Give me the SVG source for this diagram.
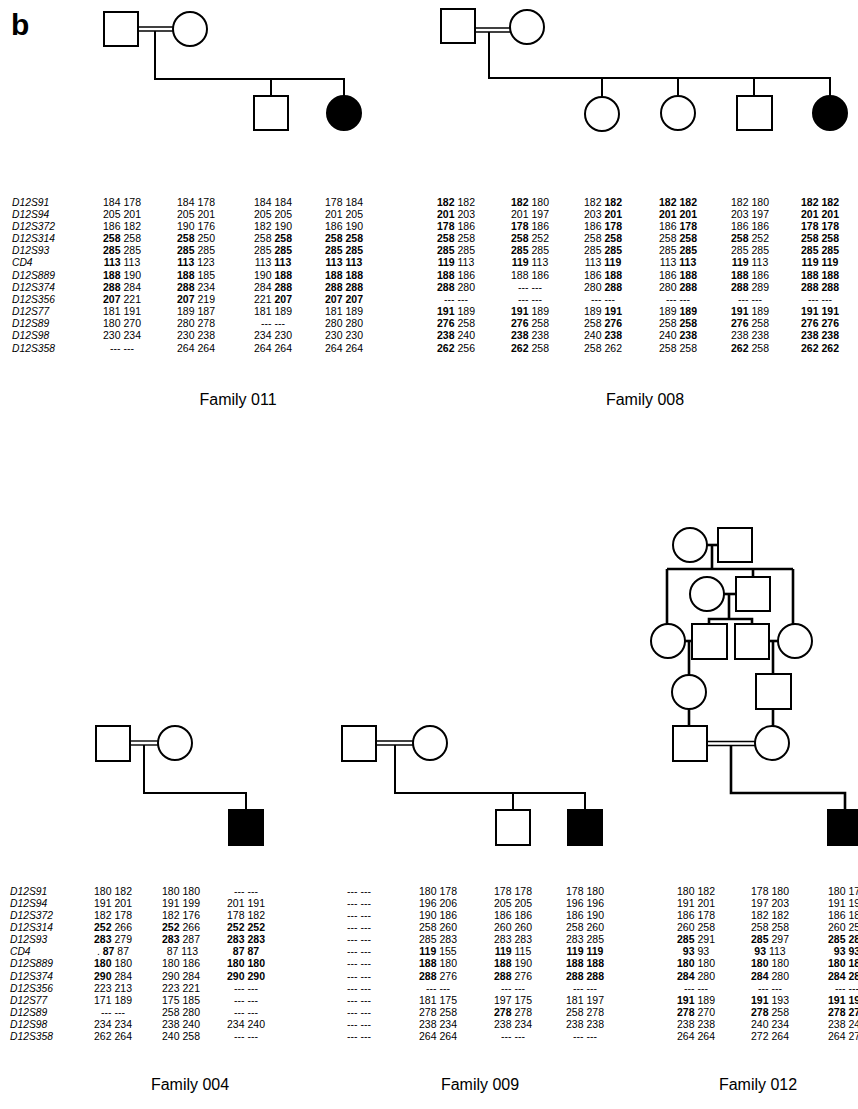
<svg xmlns="http://www.w3.org/2000/svg" width="858" height="1109" viewBox="0 0 858 1109">
<style>
.sym{fill:#fff;stroke:#000;stroke-width:2}
.aff{fill:#000;stroke:#000;stroke-width:2}
.ln{fill:none;stroke:#000;stroke-width:2}
.ln2{fill:none;stroke:#000;stroke-width:2.6}
.dbl{fill:none;stroke:#000;stroke-width:1.4}
.mk{font-family:"Liberation Sans",Arial,sans-serif;font-size:10.3px;font-style:italic}
.al{font-family:"Liberation Sans",Arial,sans-serif;font-size:10.5px;text-anchor:middle;white-space:pre}
.b{font-weight:bold}
.fam{font-family:"Liberation Sans",Arial,sans-serif;font-size:16px;text-anchor:middle}
</style>
<rect width="858" height="1109" fill="#fff"/>
<text x="11" y="35" font-family="Liberation Sans,Arial,sans-serif" font-size="30" font-weight="bold">b</text>

<!-- ===== Family 011 pedigree ===== -->
<g id="connectors-011">
<line class="dbl" x1="138" y1="27" x2="173" y2="27"/><line class="dbl" x1="138" y1="31" x2="173" y2="31"/>
<polyline class="ln" points="155,31 155,79 344,79 344,96"/>
<line class="ln" x1="271" y1="79" x2="271" y2="96"/>
</g>
<g id="f011-father"><rect class="sym" x="104" y="12" width="34" height="34"/></g>
<g id="f011-mother"><circle class="sym" cx="190" cy="29" r="17"/></g>
<g id="f011-son"><rect class="sym" x="254" y="96" width="34" height="34"/></g>
<g id="f011-affected-daughter"><circle class="aff" cx="344" cy="113" r="17"/></g>

<!-- ===== Family 008 pedigree ===== -->
<g id="connectors-008">
<line class="dbl" x1="475" y1="28" x2="510" y2="28"/><line class="dbl" x1="475" y1="32" x2="510" y2="32"/>
<polyline class="ln" points="489,32 489,78 830,78 830,96"/>
<line class="ln" x1="602" y1="78" x2="602" y2="97"/>
<line class="ln" x1="678" y1="78" x2="678" y2="96"/>
<line class="ln" x1="754" y1="78" x2="754" y2="96"/>
</g>
<g id="f008-father"><rect class="sym" x="441" y="9" width="34" height="34"/></g>
<g id="f008-mother"><circle class="sym" cx="527" cy="27" r="17"/></g>
<g id="f008-daughter1"><circle class="sym" cx="602" cy="114" r="17"/></g>
<g id="f008-daughter2"><circle class="sym" cx="678" cy="113" r="17"/></g>
<g id="f008-son"><rect class="sym" x="737" y="96" width="35" height="34"/></g>
<g id="f008-affected-daughter"><circle class="aff" cx="830" cy="113" r="17"/></g>

<!-- ===== top marker labels ===== -->
<g id="markers-top" class="mk">
<text x="12" y="205.5">D12S91</text><text x="12" y="217.7">D12S94</text><text x="12" y="229.8">D12S372</text>
<text x="12" y="242">D12S314</text><text x="12" y="254.2">D12S93</text><text x="12" y="266.4">CD4</text>
<text x="12" y="278.5">D12S889</text><text x="12" y="290.7">D12S374</text><text x="12" y="302.9">D12S356</text>
<text x="12" y="315">D12S77</text><text x="12" y="327.2">D12S89</text><text x="12" y="339.4">D12S98</text>
<text x="12" y="351.5">D12S358</text>
</g>

<!-- ===== Family 011 table ===== -->
<g id="table-011" class="al">
<text y="205.5"><tspan x="122">184 178</tspan><tspan x="196">184 178</tspan><tspan x="273">184 184</tspan><tspan x="344">178 184</tspan></text>
<text y="217.7"><tspan x="122">205 201</tspan><tspan x="196">205 201</tspan><tspan x="273">205 205</tspan><tspan x="344">201 205</tspan></text>
<text y="229.8"><tspan x="122">186 182</tspan><tspan x="196">190 176</tspan><tspan x="273">182 190</tspan><tspan x="344">186 190</tspan></text>
<text y="242"><tspan x="122"><tspan class="b">258</tspan> 258</tspan><tspan x="196"><tspan class="b">258</tspan> 250</tspan><tspan x="273">258 <tspan class="b">258</tspan></tspan><tspan x="344" class="b">258 258</tspan></text>
<text y="254.2"><tspan x="122"><tspan class="b">285</tspan> 285</tspan><tspan x="196"><tspan class="b">285</tspan> 285</tspan><tspan x="273">285 <tspan class="b">285</tspan></tspan><tspan x="344" class="b">285 285</tspan></text>
<text y="266.4"><tspan x="122"><tspan class="b">113</tspan> 113</tspan><tspan x="196"><tspan class="b">113</tspan> 123</tspan><tspan x="273">113 <tspan class="b">113</tspan></tspan><tspan x="344" class="b">113 113</tspan></text>
<text y="278.5"><tspan x="122"><tspan class="b">188</tspan> 190</tspan><tspan x="196"><tspan class="b">188</tspan> 185</tspan><tspan x="273">190 <tspan class="b">188</tspan></tspan><tspan x="344" class="b">188 188</tspan></text>
<text y="290.7"><tspan x="122"><tspan class="b">288</tspan> 284</tspan><tspan x="196"><tspan class="b">288</tspan> 234</tspan><tspan x="273">284 <tspan class="b">288</tspan></tspan><tspan x="344" class="b">288 288</tspan></text>
<text y="302.9"><tspan x="122"><tspan class="b">207</tspan> 221</tspan><tspan x="196"><tspan class="b">207</tspan> 219</tspan><tspan x="273">221 <tspan class="b">207</tspan></tspan><tspan x="344" class="b">207 207</tspan></text>
<text y="315"><tspan x="122">181 191</tspan><tspan x="196">189 187</tspan><tspan x="273">181 189</tspan><tspan x="344">181 189</tspan></text>
<text y="327.2"><tspan x="122">180 270</tspan><tspan x="196">280 278</tspan><tspan x="273">---    ---</tspan><tspan x="344">280 280</tspan></text>
<text y="339.4"><tspan x="122">230 234</tspan><tspan x="196">230 238</tspan><tspan x="273">234 230</tspan><tspan x="344">230 230</tspan></text>
<text y="351.5"><tspan x="122">---    ---</tspan><tspan x="196">264 264</tspan><tspan x="273">264 264</tspan><tspan x="344">264 264</tspan></text>
</g>

<!-- ===== Family 008 table ===== -->
<g id="table-008" class="al">
<text y="205.5"><tspan x="456"><tspan class="b">182</tspan> 182</tspan><tspan x="530"><tspan class="b">182</tspan> 180</tspan><tspan x="603">182 <tspan class="b">182</tspan></tspan><tspan x="678" class="b">182 182</tspan><tspan x="750">182 180</tspan><tspan x="820" class="b">182 182</tspan></text>
<text y="217.7"><tspan x="456"><tspan class="b">201</tspan> 203</tspan><tspan x="530">201 197</tspan><tspan x="603">203 <tspan class="b">201</tspan></tspan><tspan x="678" class="b">201 201</tspan><tspan x="750">203 197</tspan><tspan x="820" class="b">201 201</tspan></text>
<text y="229.8"><tspan x="456"><tspan class="b">178</tspan> 186</tspan><tspan x="530"><tspan class="b">178</tspan> 186</tspan><tspan x="603">186 <tspan class="b">178</tspan></tspan><tspan x="678">186 <tspan class="b">178</tspan></tspan><tspan x="750">186 186</tspan><tspan x="820" class="b">178 178</tspan></text>
<text y="242"><tspan x="456"><tspan class="b">258</tspan> 258</tspan><tspan x="530"><tspan class="b">258</tspan> 252</tspan><tspan x="603">258 <tspan class="b">258</tspan></tspan><tspan x="678">258 <tspan class="b">258</tspan></tspan><tspan x="750"><tspan class="b">258</tspan> 252</tspan><tspan x="820" class="b">258 258</tspan></text>
<text y="254.2"><tspan x="456"><tspan class="b">285</tspan> 285</tspan><tspan x="530"><tspan class="b">285</tspan> 285</tspan><tspan x="603">285 <tspan class="b">285</tspan></tspan><tspan x="678">285 <tspan class="b">285</tspan></tspan><tspan x="750">285 285</tspan><tspan x="820" class="b">285 285</tspan></text>
<text y="266.4"><tspan x="456"><tspan class="b">119</tspan> 113</tspan><tspan x="530"><tspan class="b">119</tspan> 113</tspan><tspan x="603">113 <tspan class="b">119</tspan></tspan><tspan x="678">113 <tspan class="b">113</tspan></tspan><tspan x="750"><tspan class="b">119</tspan> 113</tspan><tspan x="820" class="b">119 119</tspan></text>
<text y="278.5"><tspan x="456"><tspan class="b">188</tspan> 186</tspan><tspan x="530">188 186</tspan><tspan x="603">186 <tspan class="b">188</tspan></tspan><tspan x="678">186 <tspan class="b">188</tspan></tspan><tspan x="750"><tspan class="b">188</tspan> 186</tspan><tspan x="820" class="b">188 188</tspan></text>
<text y="290.7"><tspan x="456"><tspan class="b">288</tspan> 280</tspan><tspan x="530">---    ---</tspan><tspan x="603">280 <tspan class="b">288</tspan></tspan><tspan x="678">280 <tspan class="b">288</tspan></tspan><tspan x="750"><tspan class="b">288</tspan> 289</tspan><tspan x="820" class="b">288 288</tspan></text>
<text y="302.9"><tspan x="456">---    ---</tspan><tspan x="530">---    ---</tspan><tspan x="603">---    ---</tspan><tspan x="678">---    ---</tspan><tspan x="750">---    ---</tspan><tspan x="820">---    ---</tspan></text>
<text y="315"><tspan x="456"><tspan class="b">191</tspan> 189</tspan><tspan x="530"><tspan class="b">191</tspan> 189</tspan><tspan x="603">189 <tspan class="b">191</tspan></tspan><tspan x="678">189 <tspan class="b">189</tspan></tspan><tspan x="750"><tspan class="b">191</tspan> 189</tspan><tspan x="820" class="b">191 191</tspan></text>
<text y="327.2"><tspan x="456"><tspan class="b">276</tspan> 258</tspan><tspan x="530"><tspan class="b">276</tspan> 258</tspan><tspan x="603">258 <tspan class="b">276</tspan></tspan><tspan x="678">258 <tspan class="b">258</tspan></tspan><tspan x="750"><tspan class="b">276</tspan> 258</tspan><tspan x="820" class="b">276 276</tspan></text>
<text y="339.4"><tspan x="456"><tspan class="b">238</tspan> 240</tspan><tspan x="530"><tspan class="b">238</tspan> 238</tspan><tspan x="603">240 <tspan class="b">238</tspan></tspan><tspan x="678">240 <tspan class="b">238</tspan></tspan><tspan x="750">238 238</tspan><tspan x="820" class="b">238 238</tspan></text>
<text y="351.5"><tspan x="456"><tspan class="b">262</tspan> 256</tspan><tspan x="530"><tspan class="b">262</tspan> 258</tspan><tspan x="603">258 262</tspan><tspan x="678">258 258</tspan><tspan x="750"><tspan class="b">262</tspan> 258</tspan><tspan x="820" class="b">262 262</tspan></text>
</g>

<g id="labels-top" class="fam">
<text x="238" y="405">Family 011</text>
<text x="645" y="405">Family 008</text>
</g>

<!-- ===== Family 004 pedigree ===== -->
<g id="connectors-004">
<line class="dbl" x1="130" y1="741" x2="158" y2="741"/><line class="dbl" x1="130" y1="745" x2="158" y2="745"/>
<polyline class="ln" points="144,745 144,793 246,793 246,810"/>
</g>
<g id="f004-father"><rect class="sym" x="96" y="726" width="34" height="35"/></g>
<g id="f004-mother"><circle class="sym" cx="175" cy="743" r="17"/></g>
<g id="f004-affected-son"><rect class="aff" x="229" y="810" width="34" height="35"/></g>

<!-- ===== Family 009 pedigree ===== -->
<g id="connectors-009">
<line class="dbl" x1="376" y1="741" x2="413" y2="741"/><line class="dbl" x1="376" y1="745" x2="413" y2="745"/>
<polyline class="ln" points="395,745 395,793 585,793 585,810"/>
<line class="ln" x1="513" y1="793" x2="513" y2="810"/>
</g>
<g id="f009-father"><rect class="sym" x="342" y="726" width="34" height="35"/></g>
<g id="f009-mother"><circle class="sym" cx="430" cy="743" r="17"/></g>
<g id="f009-son"><rect class="sym" x="496" y="810" width="34" height="35"/></g>
<g id="f009-affected-son"><rect class="aff" x="568" y="810" width="34" height="35"/></g>

<!-- ===== Family 012 pedigree ===== -->
<g id="connectors-012">
<line class="ln2" x1="707" y1="545" x2="718" y2="545"/>
<line class="ln2" x1="712" y1="545" x2="712" y2="569"/>
<line class="ln2" x1="667" y1="569" x2="793" y2="569"/>
<line class="ln2" x1="667" y1="569" x2="667" y2="624"/>
<line class="ln2" x1="793" y1="569" x2="793" y2="624"/>
<line class="ln2" x1="753" y1="569" x2="753" y2="577"/>
<line class="ln2" x1="724" y1="594" x2="736" y2="594"/>
<line class="ln2" x1="729" y1="594" x2="729" y2="619"/>
<polyline class="ln2" points="709,624 709,619 752,619 752,624"/>
<line class="ln2" x1="685" y1="641" x2="692" y2="641"/>
<line class="ln2" x1="769" y1="641" x2="778" y2="641"/>
<line class="ln2" x1="689" y1="641" x2="689" y2="675"/>
<line class="ln2" x1="773" y1="641" x2="773" y2="674"/>
<line class="ln2" x1="689" y1="709" x2="689" y2="726"/>
<line class="ln2" x1="773" y1="709" x2="773" y2="726"/>
<line class="dbl" x1="707" y1="741.5" x2="755" y2="741.5"/><line class="dbl" x1="707" y1="745.5" x2="755" y2="745.5"/>
<polyline class="ln2" points="731,745.5 731,793 845,793 845,810"/>
</g>
<g id="f012-gm1"><circle class="sym" cx="690" cy="545" r="17"/></g>
<g id="f012-gf1"><rect class="sym" x="718" y="528" width="34" height="34"/></g>
<g id="f012-gm2"><circle class="sym" cx="707" cy="594" r="17"/></g>
<g id="f012-gf2"><rect class="sym" x="736" y="577" width="34" height="34"/></g>
<g id="f012-c1"><circle class="sym" cx="668" cy="641" r="17"/></g>
<g id="f012-s1"><rect class="sym" x="692" y="624" width="35" height="35"/></g>
<g id="f012-s2"><rect class="sym" x="735" y="624" width="34" height="35"/></g>
<g id="f012-c2"><circle class="sym" cx="795" cy="641" r="17"/></g>
<g id="f012-c3"><circle class="sym" cx="689" cy="692" r="17"/></g>
<g id="f012-s3"><rect class="sym" x="756" y="674" width="35" height="35"/></g>
<g id="f012-father"><rect class="sym" x="673" y="726" width="34" height="35"/></g>
<g id="f012-mother"><circle class="sym" cx="772" cy="743" r="17"/></g>
<g id="f012-affected-son"><rect class="aff" x="828" y="810" width="35" height="35"/></g>

<!-- ===== bottom marker labels ===== -->
<g id="markers-bottom" class="mk">
<text x="10" y="894.8">D12S91</text><text x="10" y="906.9">D12S94</text><text x="10" y="919">D12S372</text>
<text x="10" y="931.1">D12S314</text><text x="10" y="943.2">D12S93</text><text x="10" y="955.3">CD4</text>
<text x="10" y="967.4">D12S889</text><text x="10" y="979.5">D12S374</text><text x="10" y="991.6">D12S356</text>
<text x="10" y="1003.7">D12S77</text><text x="10" y="1015.8">D12S89</text><text x="10" y="1027.9">D12S98</text>
<text x="10" y="1040">D12S358</text>
</g>

<!-- ===== Family 004 table ===== -->
<g id="table-004" class="al">
<text y="894.8"><tspan x="113">180 182</tspan><tspan x="181">180 180</tspan><tspan x="246">---    ---</tspan></text>
<text y="906.9"><tspan x="113">191 201</tspan><tspan x="181">191 199</tspan><tspan x="246">201 191</tspan></text>
<text y="919"><tspan x="113">182 178</tspan><tspan x="181">182 176</tspan><tspan x="246">178 182</tspan></text>
<text y="931.1"><tspan x="113"><tspan class="b">252</tspan> 266</tspan><tspan x="181"><tspan class="b">252</tspan> 266</tspan><tspan x="246" class="b">252 252</tspan></text>
<text y="943.2"><tspan x="113"><tspan class="b">283</tspan> 279</tspan><tspan x="181"><tspan class="b">283</tspan> 287</tspan><tspan x="246" class="b">283 283</tspan></text>
<text y="955.3"><tspan x="113">. <tspan class="b">87</tspan>  87</tspan><tspan x="181">  87 113</tspan><tspan x="246" class="b">87  87</tspan></text>
<text y="967.4"><tspan x="113"><tspan class="b">180</tspan> 180</tspan><tspan x="181">180 186</tspan><tspan x="246" class="b">180 180</tspan></text>
<text y="979.5"><tspan x="113"><tspan class="b">290</tspan> 284</tspan><tspan x="181">290 284</tspan><tspan x="246" class="b">290 290</tspan></text>
<text y="991.6"><tspan x="113">223 213</tspan><tspan x="181">223 221</tspan><tspan x="246">---    ---</tspan></text>
<text y="1003.7"><tspan x="113">171 189</tspan><tspan x="181">175 185</tspan><tspan x="246">---    ---</tspan></text>
<text y="1015.8"><tspan x="113">---    ---</tspan><tspan x="181">258 280</tspan><tspan x="246">---    ---</tspan></text>
<text y="1027.9"><tspan x="113">234 234</tspan><tspan x="181">238 240</tspan><tspan x="246">234 240</tspan></text>
<text y="1040"><tspan x="113">262 264</tspan><tspan x="181">240 258</tspan><tspan x="246">---    ---</tspan></text>
</g>

<!-- ===== Family 009 table ===== -->
<g id="table-009" class="al">
<text y="894.8"><tspan x="359">---    ---</tspan><tspan x="438">180 178</tspan><tspan x="513">178 178</tspan><tspan x="585">178 180</tspan></text>
<text y="906.9"><tspan x="359">---    ---</tspan><tspan x="438">196 206</tspan><tspan x="513">205 205</tspan><tspan x="585">196 196</tspan></text>
<text y="919"><tspan x="359">---    ---</tspan><tspan x="438">190 186</tspan><tspan x="513">186 186</tspan><tspan x="585">186 190</tspan></text>
<text y="931.1"><tspan x="359">---    ---</tspan><tspan x="438">258 260</tspan><tspan x="513">260 260</tspan><tspan x="585">258 260</tspan></text>
<text y="943.2"><tspan x="359">---    ---</tspan><tspan x="438">285 283</tspan><tspan x="513">283 283</tspan><tspan x="585">283 285</tspan></text>
<text y="955.3"><tspan x="359">---    ---</tspan><tspan x="438"><tspan class="b">119</tspan> 155</tspan><tspan x="513"><tspan class="b">119</tspan> 115</tspan><tspan x="585" class="b">119 119</tspan></text>
<text y="967.4"><tspan x="359">---    ---</tspan><tspan x="438"><tspan class="b">188</tspan> 180</tspan><tspan x="513"><tspan class="b">188</tspan> 190</tspan><tspan x="585" class="b">188 188</tspan></text>
<text y="979.5"><tspan x="359">---    ---</tspan><tspan x="438"><tspan class="b">288</tspan> 276</tspan><tspan x="513"><tspan class="b">288</tspan> 276</tspan><tspan x="585" class="b">288 288</tspan></text>
<text y="991.6"><tspan x="359">---    ---</tspan><tspan x="438">---    ---</tspan><tspan x="513">---    ---</tspan><tspan x="585">---    ---</tspan></text>
<text y="1003.7"><tspan x="359">---    ---</tspan><tspan x="438">181 175</tspan><tspan x="513">197 175</tspan><tspan x="585">181 197</tspan></text>
<text y="1015.8"><tspan x="359">---    ---</tspan><tspan x="438">278 258</tspan><tspan x="513"><tspan class="b">278</tspan> 278</tspan><tspan x="585">258 278</tspan></text>
<text y="1027.9"><tspan x="359">---    ---</tspan><tspan x="438">238 234</tspan><tspan x="513">238 234</tspan><tspan x="585">238 238</tspan></text>
<text y="1040"><tspan x="359">---    ---</tspan><tspan x="438">264 264</tspan><tspan x="513">---    ---</tspan><tspan x="585">---    ---</tspan></text>
</g>

<!-- ===== Family 012 table ===== -->
<g id="table-012" class="al">
<text y="894.8"><tspan x="696">180 182</tspan><tspan x="770">178 180</tspan><tspan x="847">180 178</tspan></text>
<text y="906.9"><tspan x="696">191 201</tspan><tspan x="770">197 203</tspan><tspan x="847">191 197</tspan></text>
<text y="919"><tspan x="696">186 178</tspan><tspan x="770">182 182</tspan><tspan x="847">186 182</tspan></text>
<text y="931.1"><tspan x="696">260 258</tspan><tspan x="770">258 258</tspan><tspan x="847">260 258</tspan></text>
<text y="943.2"><tspan x="696"><tspan class="b">285</tspan> 291</tspan><tspan x="770"><tspan class="b">285</tspan> 297</tspan><tspan x="847" class="b">285 285</tspan></text>
<text y="955.3"><tspan x="696"><tspan class="b">93</tspan>   93</tspan><tspan x="770"><tspan class="b">93</tspan>  113</tspan><tspan x="847" class="b">93   93</tspan></text>
<text y="967.4"><tspan x="696"><tspan class="b">180</tspan> 180</tspan><tspan x="770"><tspan class="b">180</tspan> 180</tspan><tspan x="847" class="b">180 180</tspan></text>
<text y="979.5"><tspan x="696"><tspan class="b">284</tspan> 280</tspan><tspan x="770"><tspan class="b">284</tspan> 280</tspan><tspan x="847" class="b">284 284</tspan></text>
<text y="991.6"><tspan x="696">---    ---</tspan><tspan x="770">---    ---</tspan><tspan x="847">---    ---</tspan></text>
<text y="1003.7"><tspan x="696"><tspan class="b">191</tspan> 189</tspan><tspan x="770"><tspan class="b">191</tspan> 193</tspan><tspan x="847" class="b">191 191</tspan></text>
<text y="1015.8"><tspan x="696"><tspan class="b">278</tspan> 270</tspan><tspan x="770"><tspan class="b">278</tspan> 258</tspan><tspan x="847" class="b">278 278</tspan></text>
<text y="1027.9"><tspan x="696">238 238</tspan><tspan x="770">240 234</tspan><tspan x="847">238 240</tspan></text>
<text y="1040"><tspan x="696">264 264</tspan><tspan x="770">272 264</tspan><tspan x="847">264 272</tspan></text>
</g>

<g id="labels-bottom" class="fam">
<text x="190" y="1090">Family 004</text>
<text x="480" y="1090">Family 009</text>
<text x="758" y="1090">Family 012</text>
</g>
</svg>
